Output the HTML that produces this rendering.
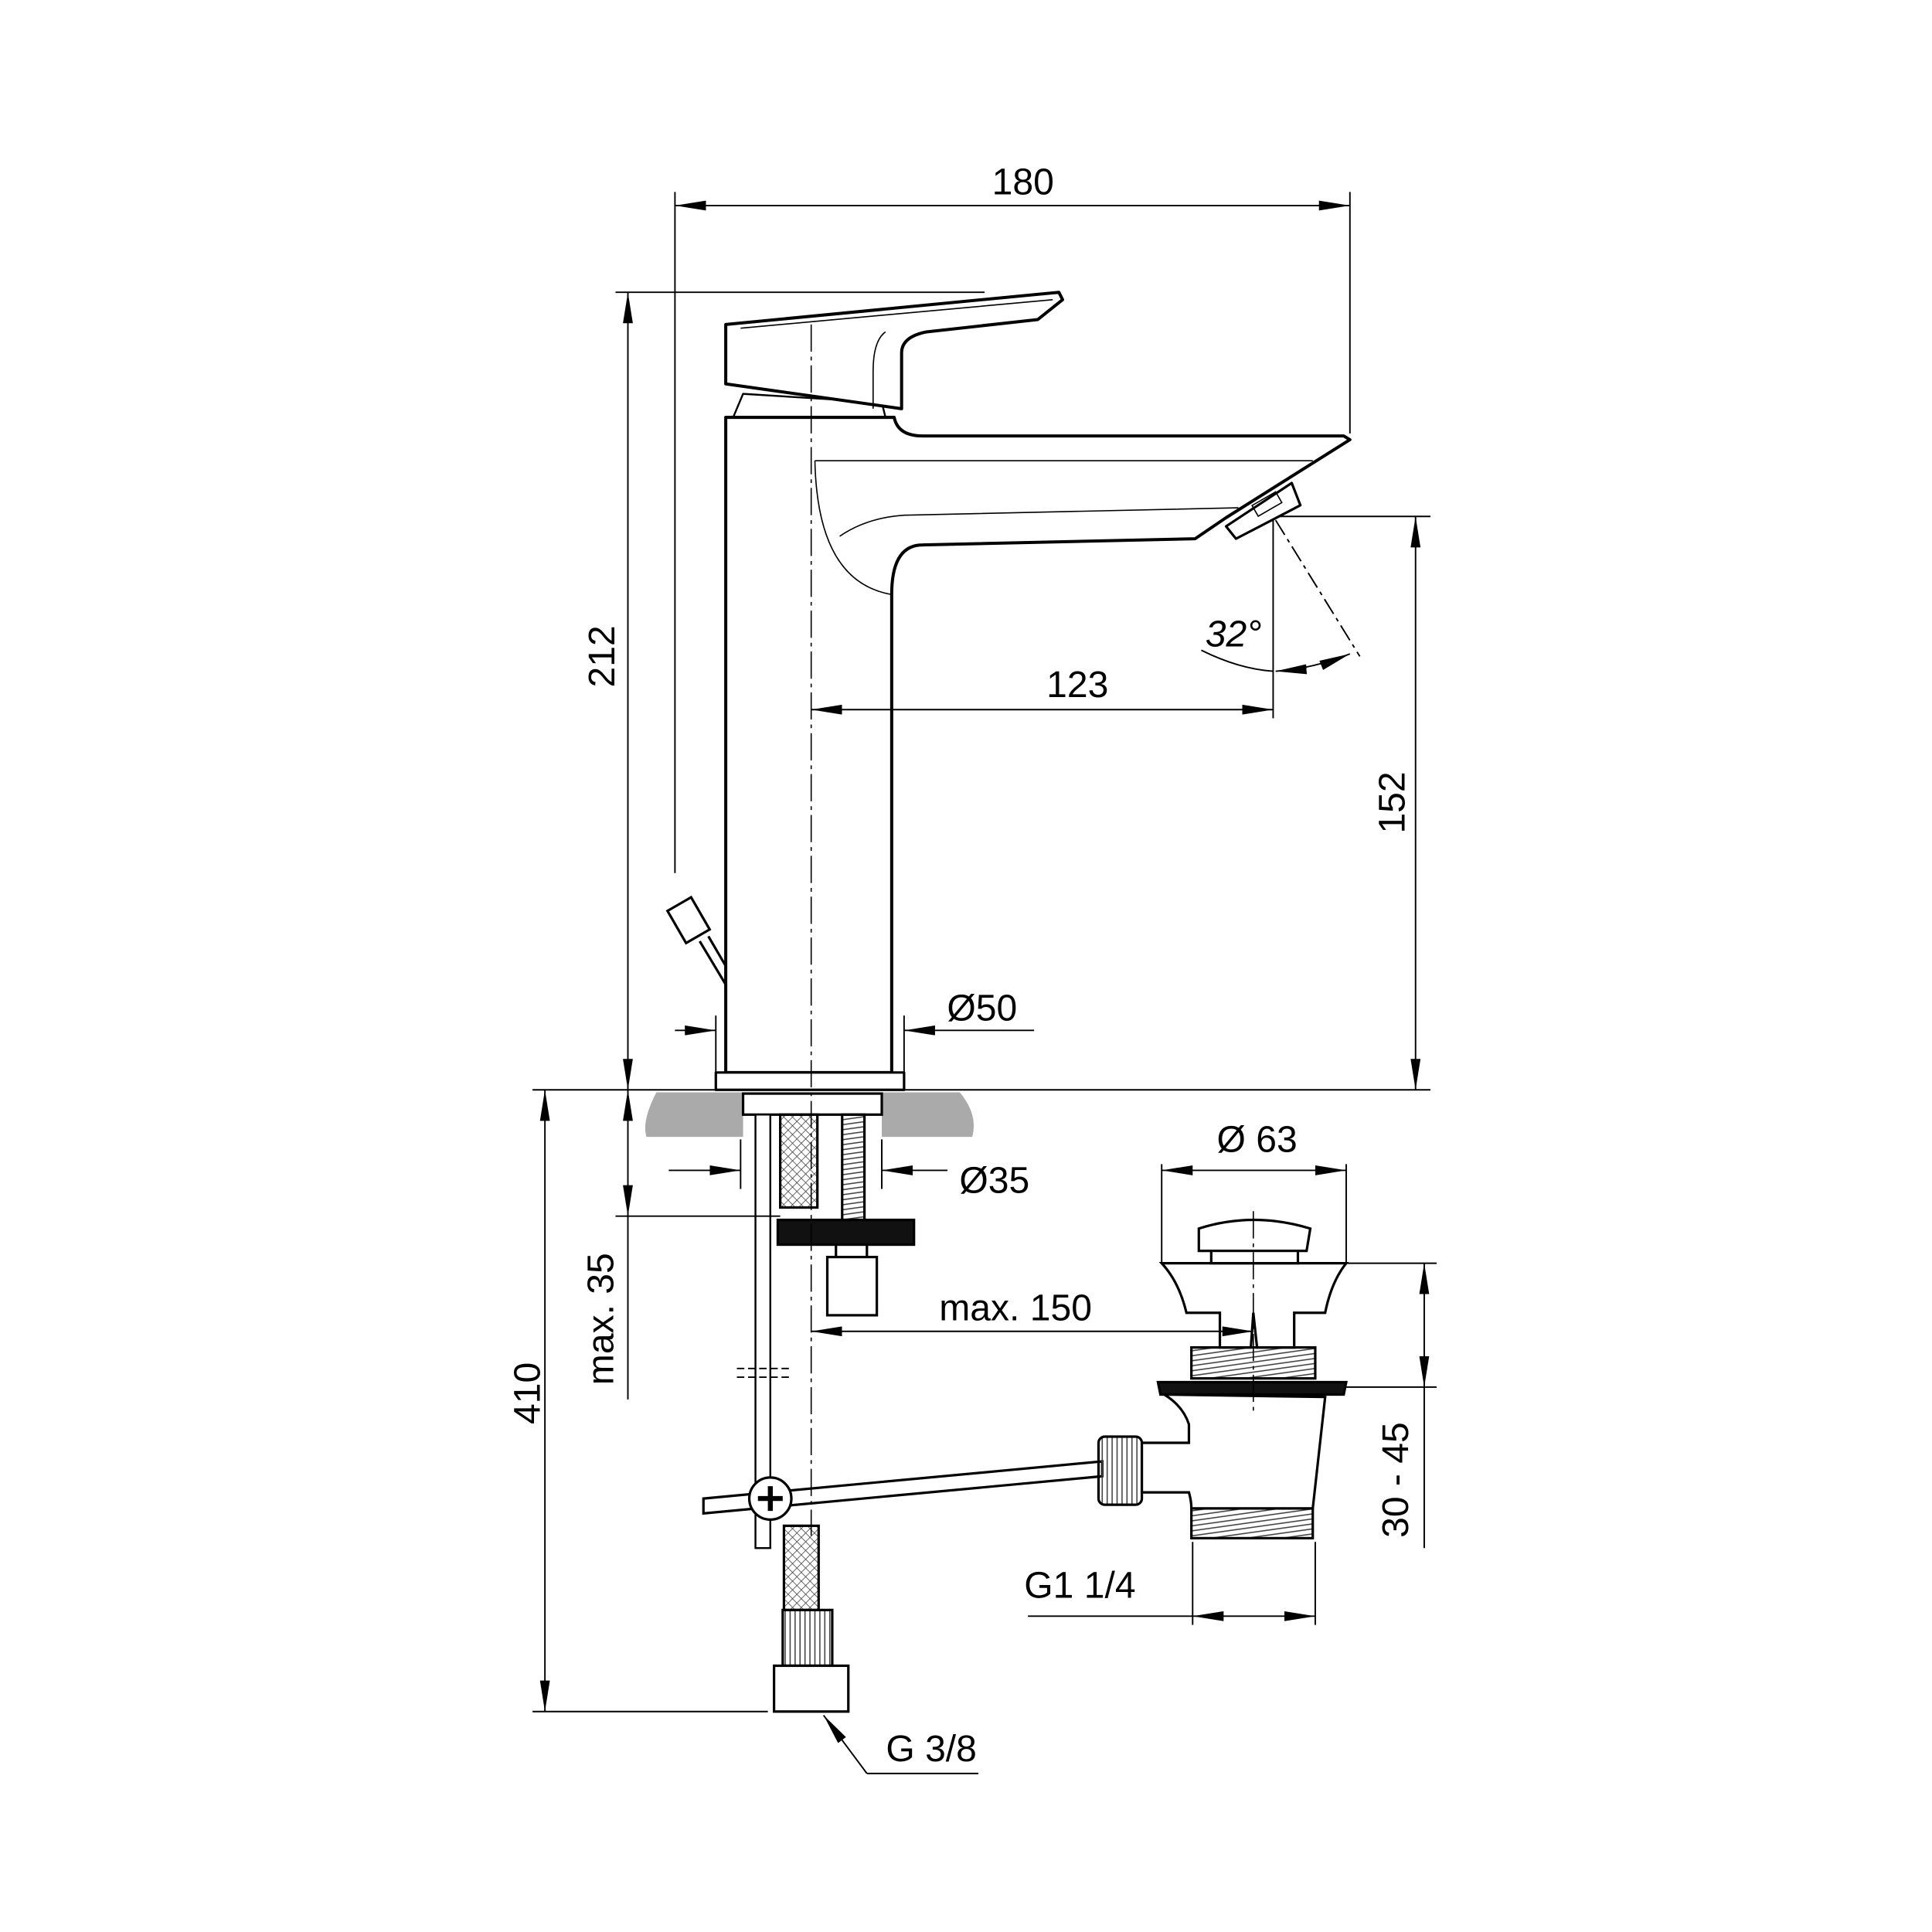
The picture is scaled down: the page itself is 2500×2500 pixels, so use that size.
<!DOCTYPE html>
<html><head><meta charset="utf-8"><style>
html,body{margin:0;padding:0;background:#fff;}
svg{display:block;}
text{font-family:"Liberation Sans",sans-serif;fill:#000;}
</style></head><body>
<svg width="2500" height="2500" viewBox="0 0 1560 1560" xmlns="http://www.w3.org/2000/svg">
<defs>
<marker id="a" viewBox="0 0 25 8" refX="25" refY="4" markerWidth="25" markerHeight="8" markerUnits="userSpaceOnUse" orient="auto-start-reverse"><path d="M0,0 L25,4 L0,8 Z" fill="#000"/></marker>
<pattern id="h" width="5" height="5" patternUnits="userSpaceOnUse" patternTransform="rotate(45)"><line x1="0" y1="0" x2="0" y2="5" stroke="#444" stroke-width="1"/><line x1="0" y1="0" x2="5" y2="0" stroke="#444" stroke-width="1"/></pattern>
<pattern id="t" width="6" height="4" patternUnits="userSpaceOnUse" patternTransform="rotate(-8)"><line x1="0" y1="2" x2="6" y2="2" stroke="#444" stroke-width="1"/></pattern>
<pattern id="v" width="4" height="6" patternUnits="userSpaceOnUse"><line x1="2" y1="0" x2="2" y2="6" stroke="#444" stroke-width="1"/></pattern>
</defs>
<g fill="none" stroke="#000" stroke-width="1.2">
<line x1="545" y1="155" x2="545" y2="705"/>
<line x1="1090" y1="155" x2="1090" y2="350"/>
<line x1="545" y1="166" x2="1090" y2="166" marker-start="url(#a)" marker-end="url(#a)"/>
<line x1="497" y1="236" x2="795" y2="236"/>
<line x1="507" y1="236" x2="507" y2="880" marker-start="url(#a)" marker-end="url(#a)"/>
<line x1="1028" y1="420" x2="1028" y2="580"/>
<line x1="1030" y1="417" x2="1155" y2="417"/>
<line x1="1143" y1="417" x2="1143" y2="880" marker-start="url(#a)" marker-end="url(#a)"/>
<line x1="1030" y1="420" x2="1098" y2="530" stroke-dasharray="14,4,3,4"/>
<path d="M970,525 Q1000,540 1028,542"/>
<path d="M1030,542 Q1060,540 1090,528" marker-start="url(#a)" marker-end="url(#a)"/>
<line x1="578" y1="820" x2="578" y2="866"/>
<line x1="730" y1="820" x2="730" y2="866"/>
<line x1="545" y1="832" x2="578" y2="832" marker-end="url(#a)"/>
<line x1="835" y1="832" x2="730" y2="832" marker-end="url(#a)"/>
<line x1="430" y1="880" x2="1155" y2="880"/>
</g>
<g fill="#fff" stroke="#000" stroke-width="2.5" stroke-linejoin="round">
<path d="M600,318 L592,337 L715,337 L712,325 Z" stroke-width="1.5"/>
<path d="M586,262 L855,236 L858,242 L838,258 L748,268 Q728,272 728,285 L728,330 L586,310 Z"/>
<path d="M586,337 L586,866 L720,866 L720,480 Q720,440 745,440 L965,435 L990,418 L1090,355 L1085,352 L745,352 Q725,352 722,337 Z"/>
<path d="M990,425 L1043,390 L1050,408 L998,435 Z" stroke-width="2"/>
<rect x="578" y="866" width="152" height="14" stroke-width="2"/>
</g>
<g fill="none" stroke="#000" stroke-width="1">
<path d="M598,265 L850,242"/>
<path d="M715,268 Q705,275 705,300 L705,330"/>
<path d="M658,372 L1060,372"/>
<path d="M658,372 Q660,470 720,480"/>
<path d="M678,433 Q700,418 730,416 L1000,410"/>
<rect x="1012" y="402" width="22" height="10" transform="rotate(-30 1023 407)"/>
<line x1="655" y1="573" x2="1028" y2="573" marker-start="url(#a)" marker-end="url(#a)" stroke-width="1.2"/>
</g>
<g stroke="#000" stroke-width="2" fill="#fff">
<rect x="545" y="728" width="22" height="30" transform="rotate(-30 556 743)"/>
<line x1="565" y1="760" x2="586" y2="795"/>
<line x1="572" y1="756" x2="586" y2="780"/>
</g>
<path d="M530,882 L600,882 L600,918 L522,918 Q518,905 530,882 Z" fill="#aaa"/>
<path d="M712,882 L775,882 Q790,900 785,918 L712,918 Z" fill="#aaa"/>
<g stroke="#000" stroke-width="2" fill="#fff">
<rect x="600" y="883" width="112" height="17"/>
<rect x="610" y="900" width="12" height="350" stroke-width="1.5"/>
<rect x="630" y="900" width="30" height="75" fill="url(#h)"/>
<rect x="680" y="900" width="18" height="85" fill="url(#t)"/>
<rect x="628" y="985" width="110" height="20" fill="#111"/>
<rect x="668" y="1015" width="40" height="47"/>
<line x1="675" y1="1005" x2="675" y2="1015"/><line x1="700" y1="1005" x2="700" y2="1015"/>
<rect x="633" y="1232" width="28" height="68" fill="url(#h)"/>
<rect x="632" y="1300" width="40" height="45" fill="url(#v)"/>
<rect x="625" y="1345" width="60" height="37"/>
<path d="M568,1210 L890,1180 L890,1192 L568,1222 Z"/>
<circle cx="622" cy="1210" r="17"/>
<path d="M612,1210 h20 M622,1200 v20" stroke-width="4"/>
<rect x="887" y="1160" width="35" height="55" rx="5" fill="url(#v)"/>
<path d="M938,1020 L1087,1020 Q1075,1035 1070,1060 L1045,1060 L1045,1088 L1015,1088 L1012,1060 L1010,1088 L985,1088 L985,1060 L958,1060 Q952,1035 938,1020 Z"/>
<path d="M968,992 Q1012,978 1058,992 L1055,1010 L968,1010 Z"/>
<rect x="978" y="1010" width="70" height="10"/>
<rect x="962" y="1088" width="100" height="25" fill="url(#t)"/>
<path d="M935,1116 L1087,1116 L1085,1126 L937,1126 Z" fill="#111"/>
<path d="M940,1126 Q955,1135 960,1150 L960,1165 L922,1165 L922,1205 L960,1205 Q962,1212 962,1218 L1060,1218 L1070,1128 Z"/>
<rect x="962" y="1218" width="98" height="24" fill="url(#t)"/>
</g>
<g fill="none" stroke="#000" stroke-width="1.2">
<line x1="655" y1="262" x2="655" y2="1240" stroke-dasharray="22,4,3,4" stroke-width="1"/>
<line x1="1012" y1="978" x2="1012" y2="1140" stroke-dasharray="22,4,3,4" stroke-width="1"/>
<line x1="595" y1="1105" x2="640" y2="1105" stroke-dasharray="6,3"/>
<line x1="595" y1="1112" x2="640" y2="1112" stroke-dasharray="6,3"/>
<line x1="497" y1="982" x2="630" y2="982"/>
<line x1="507" y1="880" x2="507" y2="982" marker-start="url(#a)" marker-end="url(#a)"/>
<line x1="507" y1="982" x2="507" y2="1130"/>
<line x1="598" y1="920" x2="598" y2="960"/>
<line x1="712" y1="920" x2="712" y2="960"/>
<line x1="540" y1="945" x2="598" y2="945" marker-end="url(#a)"/>
<line x1="765" y1="945" x2="712" y2="945" marker-end="url(#a)"/>
<line x1="440" y1="880" x2="440" y2="1382" marker-start="url(#a)" marker-end="url(#a)"/>
<line x1="430" y1="1382" x2="620" y2="1382"/>
<line x1="938" y1="940" x2="938" y2="1020"/>
<line x1="1087" y1="940" x2="1087" y2="1020"/>
<line x1="938" y1="945" x2="1087" y2="945" marker-start="url(#a)" marker-end="url(#a)"/>
<line x1="1087" y1="1020" x2="1160" y2="1020"/>
<line x1="1087" y1="1120" x2="1160" y2="1120"/>
<line x1="1150" y1="1020" x2="1150" y2="1120" marker-start="url(#a)" marker-end="url(#a)"/>
<line x1="1150" y1="1120" x2="1150" y2="1250"/>
<line x1="655" y1="1075" x2="1012" y2="1075" marker-start="url(#a)" marker-end="url(#a)"/>
<line x1="963" y1="1245" x2="963" y2="1312"/>
<line x1="1062" y1="1245" x2="1062" y2="1312"/>
<line x1="830" y1="1305" x2="963" y2="1305"/>
<line x1="963" y1="1305" x2="1062" y2="1305" marker-start="url(#a)" marker-end="url(#a)"/>
<line x1="700" y1="1432" x2="665" y2="1385" marker-end="url(#a)"/>
<line x1="700" y1="1432" x2="790" y2="1432"/>
</g>
<g font-size="30">
<text x="826" y="157" text-anchor="middle">180</text>
<text transform="translate(496,530) rotate(-90)" text-anchor="middle">212</text>
<text x="870" y="563" text-anchor="middle">123</text>
<text transform="translate(1134,648) rotate(-90)" text-anchor="middle">152</text>
<text x="996" y="522" text-anchor="middle" font-style="italic">32°</text>
<text x="793" y="824" text-anchor="middle">Ø50</text>
<text x="803" y="963" text-anchor="middle">Ø35</text>
<text x="1015" y="930" text-anchor="middle">Ø 63</text>
<text x="820" y="1066" text-anchor="middle">max. 150</text>
<text transform="translate(495,1065) rotate(-90)" text-anchor="middle">max. 35</text>
<text transform="translate(436,1125) rotate(-90)" text-anchor="middle">410</text>
<text transform="translate(1137,1195) rotate(-90)" text-anchor="middle">30 - 45</text>
<text x="872" y="1290" text-anchor="middle">G1  1/4</text>
<text x="752" y="1422" text-anchor="middle">G 3/8</text>
</g>
</svg>
</body></html>
